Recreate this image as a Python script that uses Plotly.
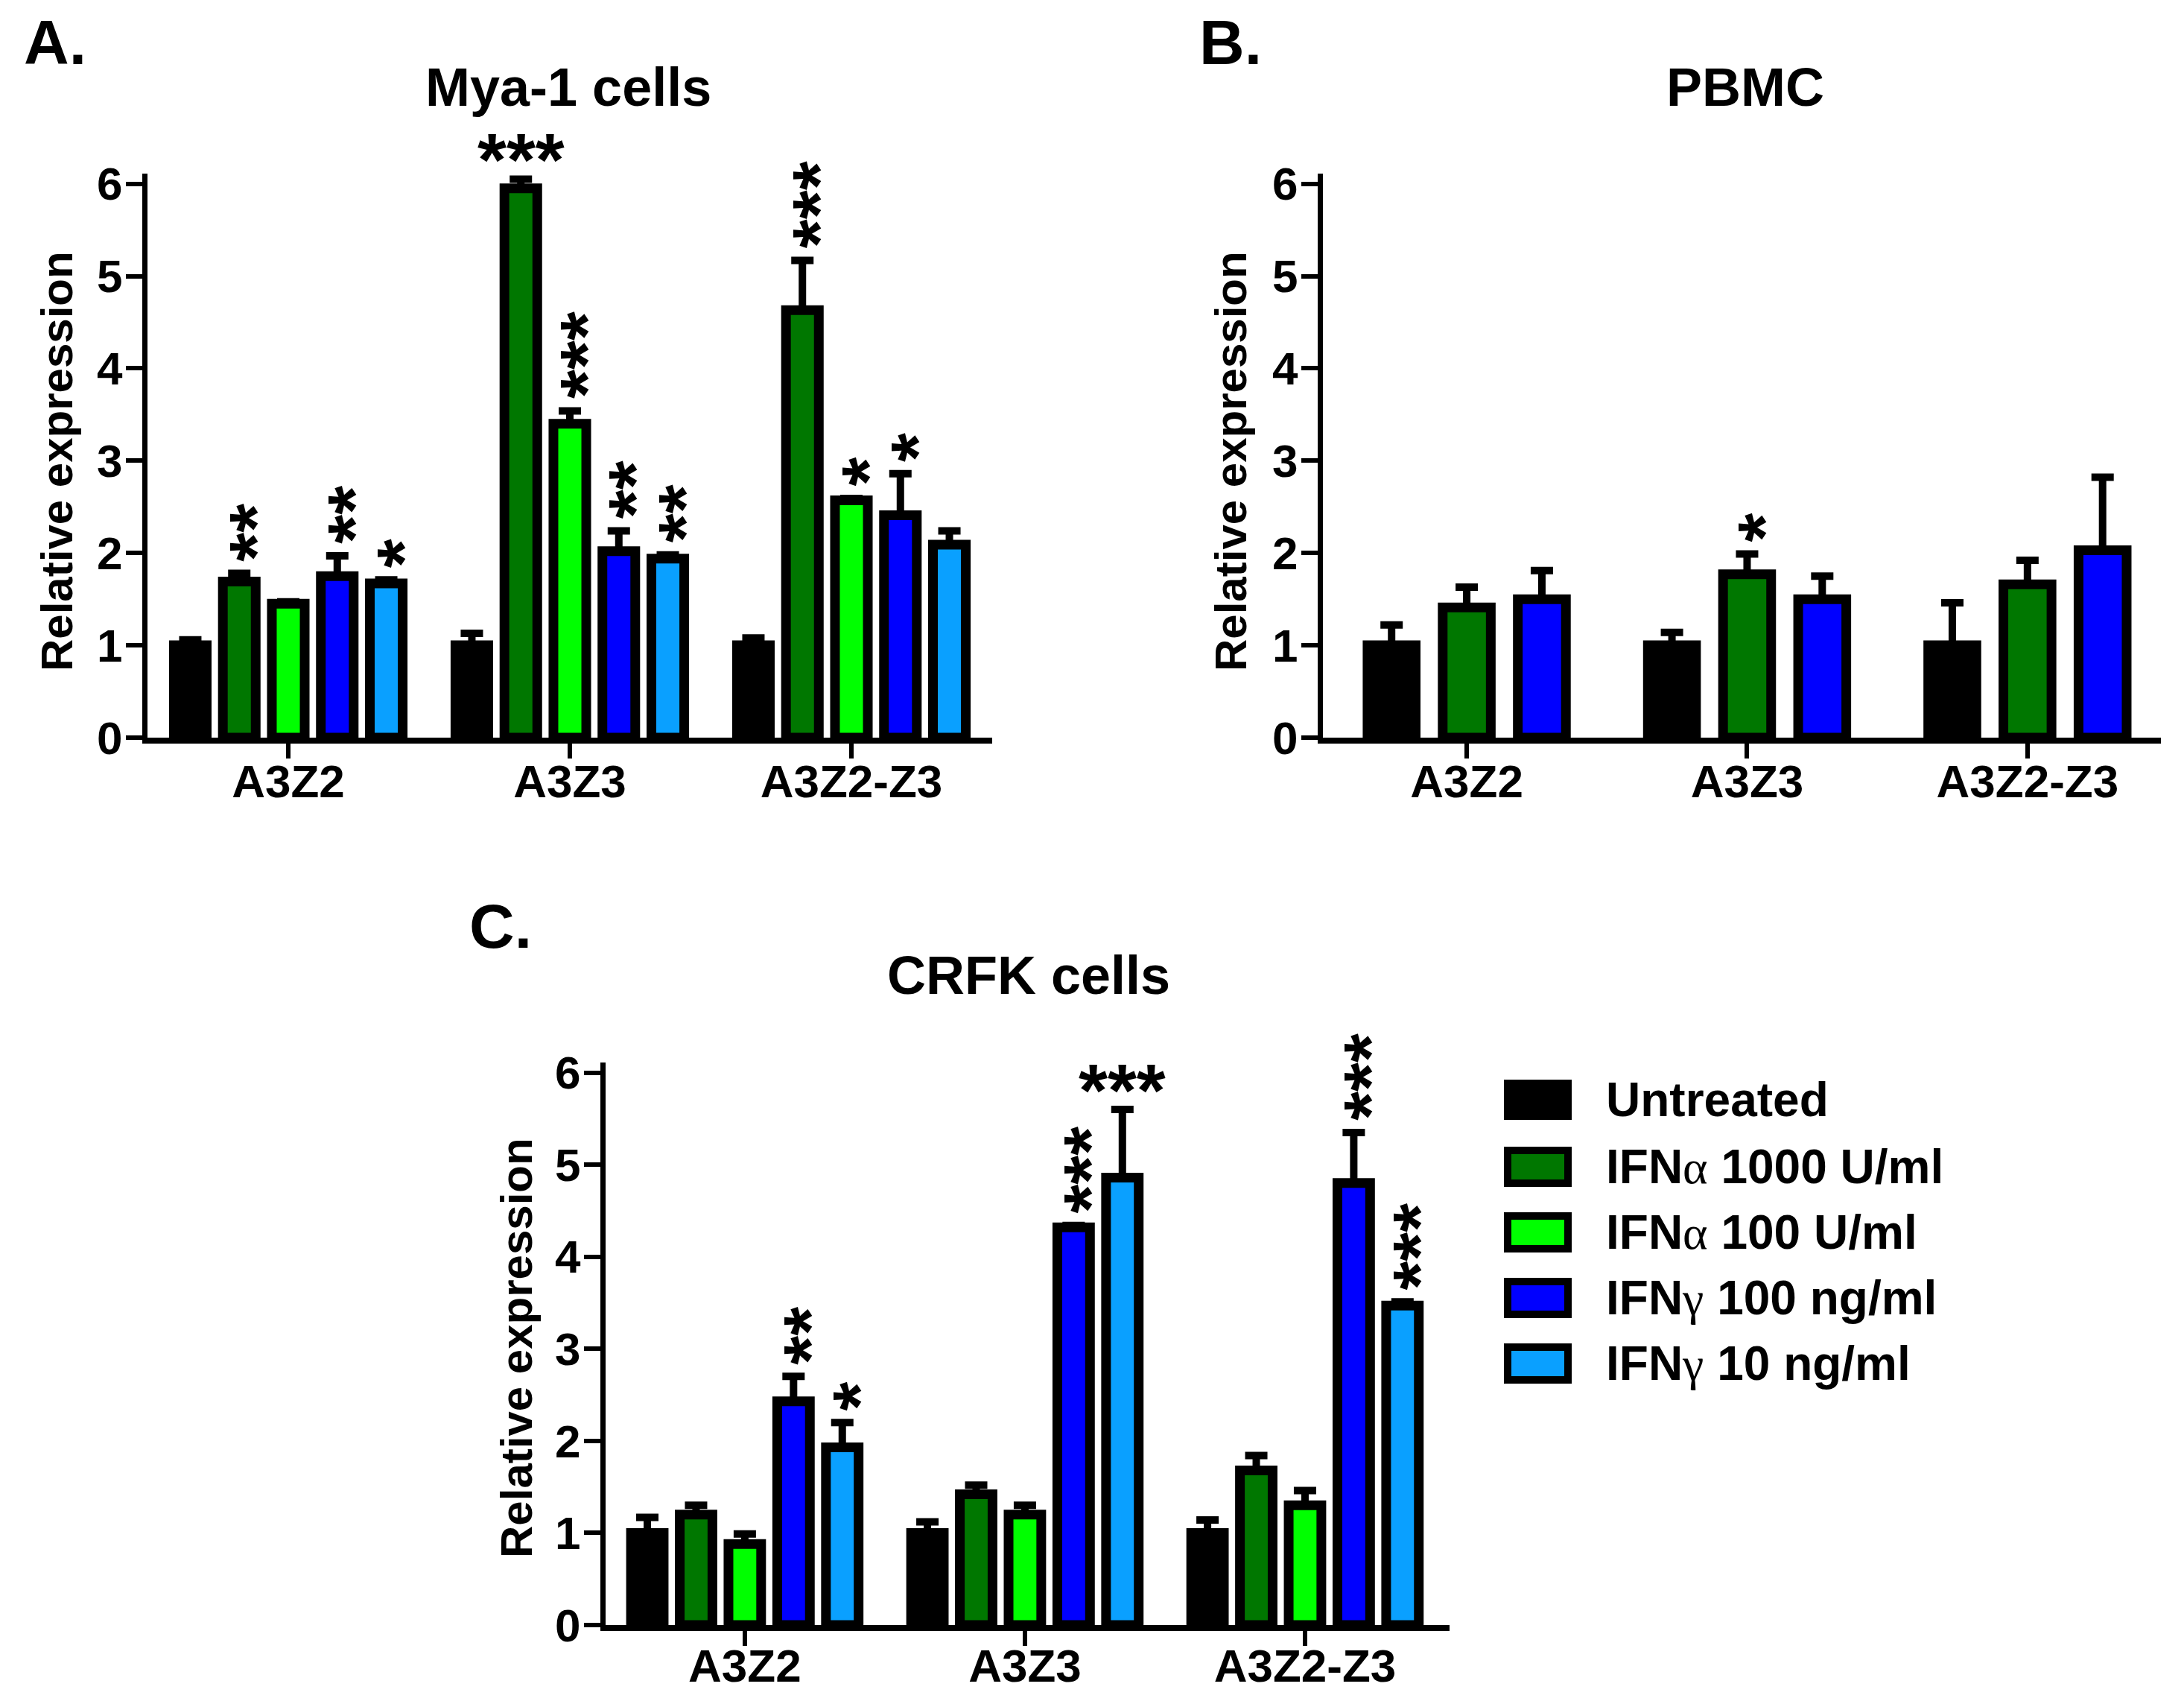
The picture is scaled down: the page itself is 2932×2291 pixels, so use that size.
import plotly.graph_objects as go

FIG_W, FIG_H = 2932, 2291
FONT = "Liberation Sans"

categories = ["A3Z2", "A3Z3", "A3Z2-Z3"]
treatments = ["Untreated", "IFNα 1000 U/ml", "IFNα 100 U/ml", "IFNγ 100 ng/ml", "IFNγ 10 ng/ml"]
colors = ["#000000", "#007700", "#00ff00", "#0000ff", "#0aa0ff"]

# A. Mya-1 cells (all five treatments)
mya1_means = [
    [1.00, 1.00, 1.00],
    [1.69, 5.95, 4.63],
    [1.45, 3.40, 2.57],
    [1.75, 2.02, 2.41],
    [1.67, 1.94, 2.09],
]
mya1_errs = [
    [0.06, 0.13, 0.08],
    [0.09, 0.10, 0.54],
    [0.02, 0.14, 0.02],
    [0.22, 0.22, 0.45],
    [0.04, 0.04, 0.15],
]
# (category, treatment, stars, stacked vertically)
mya1_stars = [
    (0, 1, "**", True), (0, 3, "**", True), (0, 4, "*", True),
    (1, 1, "***", False), (1, 2, "***", True), (1, 3, "**", True), (1, 4, "**", True),
    (2, 1, "***", True), (2, 2, "*", True), (2, 3, "*", True),
]

# B. PBMC (untreated, IFNa 1000, IFNg 100)
pbmc_series = [0, 1, 3]
pbmc_means = [
    [1.00, 1.00, 1.00],
    [1.41, 1.77, 1.66],
    [1.50, 1.50, 2.03],
]
pbmc_errs = [
    [0.22, 0.14, 0.46],
    [0.22, 0.22, 0.26],
    [0.31, 0.25, 0.79],
]
pbmc_stars = [(1, 1, "*", True)]

# C. CRFK cells
crfk_means = [
    [1.00, 1.00, 1.00],
    [1.20, 1.42, 1.68],
    [0.88, 1.20, 1.30],
    [2.43, 4.32, 4.80],
    [1.93, 4.86, 3.47],
]
crfk_errs = [
    [0.17, 0.12, 0.14],
    [0.10, 0.10, 0.16],
    [0.11, 0.10, 0.16],
    [0.27, 0.02, 0.55],
    [0.27, 0.74, 0.04],
]
crfk_stars = [
    (0, 3, "**", True), (0, 4, "*", True),
    (1, 3, "***", True), (1, 4, "***", False),
    (2, 3, "***", True), (2, 4, "***", True),
]


def px_x(p):
    return p / FIG_W


def px_y(p):
    # the captured page comes out slightly squeezed vertically, undo that here
    p = (p - 21) / 0.976
    return 1 - p / FIG_H


def bar_geom(n, gap, groupgap):
    group = 1 - gap
    slot = group / n
    width = slot * (1 - groupgap)
    centers = [-group / 2 + slot * (i + 0.5) for i in range(n)]
    offsets = [c - width / 2 for c in centers]
    return width, offsets, centers


panels = [
    dict(ax="", means=mya1_means, errs=mya1_errs, series=[0, 1, 2, 3, 4], stars=mya1_stars,
         xdom=[px_x(198), px_x(1332)], ydom=[px_y(991), px_y(234)], xrange=[-0.5, 2.5],
         gap=0.13, groupgap=0.33, standoff=-22),
    dict(ax="2", means=pbmc_means, errs=pbmc_errs, series=pbmc_series, stars=pbmc_stars,
         xdom=[px_x(1776), px_x(2901)], ydom=[px_y(991), px_y(234)], xrange=[-0.513, 2.476],
         gap=0.196, groupgap=0.36, standoff=-22),
    dict(ax="3", means=crfk_means, errs=crfk_errs, series=[0, 1, 2, 3, 4], stars=crfk_stars,
         xdom=[px_x(813), px_x(1946)], ydom=[px_y(2182), px_y(1427)], xrange=[-0.497, 2.516],
         gap=0.13, groupgap=0.33, standoff=-26),
]

STAR_SIZE = 100
star_font = dict(family=FONT, size=STAR_SIZE, color="black", weight="bold")

fig = go.Figure()
annotations = []
xcats = list(range(len(categories)))

for p in panels:
    n = len(p["series"])
    width, offsets, centers = bar_geom(n, p["gap"], p["groupgap"])
    for i, s in enumerate(p["series"]):
        fig.add_trace(go.Bar(
            x=xcats, y=p["means"][i], width=width, offset=offsets[i],
            marker=dict(color=colors[s], line=dict(color="black", width=13)),
            error_y=dict(type="data", symmetric=False, array=p["errs"][i],
                         arrayminus=[0] * len(xcats), color="black", thickness=10, width=15),
            xaxis="x" + p["ax"], yaxis="y" + p["ax"], name=treatments[s], showlegend=False,
        ))
    for cat, s, stars, vertical in p["stars"]:
        i = p["series"].index(s)
        top = p["means"][i][cat] + p["errs"][i][cat]
        if vertical:
            # stars stacked upwards: rotate the string
            annotations.append(dict(
                x=cat + centers[i], y=top, xref="x" + p["ax"], yref="y" + p["ax"],
                text=stars, showarrow=False, textangle=-90, xanchor="center", yanchor="bottom",
                xshift=22, yshift=14, font=star_font,
            ))
        else:
            annotations.append(dict(
                x=cat + centers[i], y=top, xref="x" + p["ax"], yref="y" + p["ax"],
                text=stars, showarrow=False, xanchor="center", yanchor="middle",
                yshift=26, font=star_font,
            ))
    axis_common = dict(showline=True, linecolor="black", showgrid=False, zeroline=False,
                       ticks="outside", tickcolor="black", fixedrange=True)
    fig.update_layout({
        "xaxis" + p["ax"]: dict(domain=p["xdom"], range=p["xrange"], tickvals=xcats,
                                ticktext=categories, linewidth=8, ticklen=20, tickwidth=6,
                                anchor="y" + p["ax"], ticklabelstandoff=p["standoff"],
                                tickfont=dict(family=FONT, size=62, color="black", weight="bold"),
                                **axis_common),
        "yaxis" + p["ax"]: dict(domain=p["ydom"], range=[0, 6.11], tickvals=list(range(7)),
                                linewidth=7, ticklen=22, tickwidth=6, anchor="x" + p["ax"],
                                ticklabelstandoff=-8,
                                tickfont=dict(family=FONT, size=62, color="black", weight="bold"),
                                **axis_common),
    })

# panel letters, titles and y axis titles
texts = [
    ("A.", 30, 58, 84, "left", 0), ("B.", 1608, 58, 84, "left", 0), ("C.", 628, 1244, 84, "left", 0),
    ("Mya-1 cells", 763, 118, 72, "center", 0), ("PBMC", 2343, 118, 72, "center", 0),
    ("CRFK cells", 1381, 1310, 72, "center", 0),
    ("Relative expression", 77, 620, 60, "center", -90),
    ("Relative expression", 1653, 620, 60, "center", -90),
    ("Relative expression", 694, 1810, 60, "center", -90),
]
for txt, x, y, size, anchor, angle in texts:
    annotations.append(dict(
        x=px_x(x), y=px_y(y), xref="paper", yref="paper", text=txt, showarrow=False,
        xanchor=anchor, yanchor="middle", textangle=angle,
        font=dict(family=FONT, size=size, color="black", weight="bold"),
    ))

# legend drawn as boxes with thick outlines
shapes = []
legend_rows = [1477, 1567, 1655, 1743, 1831]
legend_labels = [
    "Untreated",
    "IFN<span style=\"font-family:Liberation Serif;font-weight:normal\">α</span> 1000 U/ml",
    "IFN<span style=\"font-family:Liberation Serif;font-weight:normal\">α</span> 100 U/ml",
    "IFN<span style=\"font-family:Liberation Serif;font-weight:normal\">γ</span> 100 ng/ml",
    "IFN<span style=\"font-family:Liberation Serif;font-weight:normal\">γ</span> 10 ng/ml",
]
for row, label, color in zip(legend_rows, legend_labels, colors):
    shapes.append(dict(type="rect", xref="paper", yref="paper",
                       x0=px_x(2024), x1=px_x(2105), y0=px_y(row + 22), y1=px_y(row - 22),
                       fillcolor=color, line=dict(color="black", width=10)))
    annotations.append(dict(
        x=px_x(2154), y=px_y(row), xref="paper", yref="paper", text=label, showarrow=False,
        xanchor="left", yanchor="middle",
        font=dict(family=FONT, size=64, color="black", weight="bold"),
    ))

fig.update_layout(
    width=FIG_W, height=FIG_H, margin=dict(l=0, r=0, t=0, b=0),
    paper_bgcolor="white", plot_bgcolor="white", barmode="overlay",
    showlegend=False, annotations=annotations, shapes=shapes,
)

fig.write_html("out.html", config={"displayModeBar": False},
               post_script="document.body.style.margin='0';document.body.style.overflow='hidden';")
